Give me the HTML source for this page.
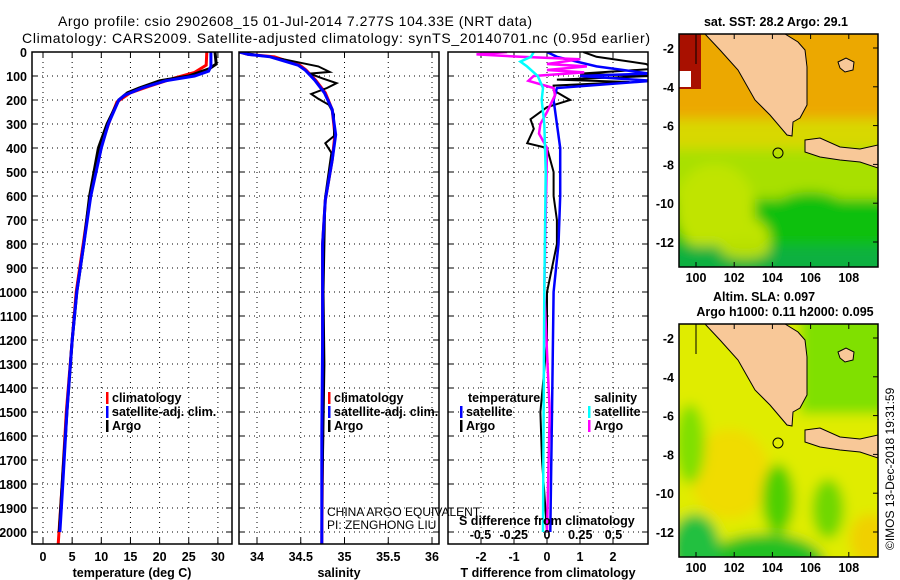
<!DOCTYPE html>
<html><head><meta charset="utf-8"><style>
body{margin:0;background:#fff;}
svg{display:block;font-family:"Liberation Sans",sans-serif;}
.b{font-weight:bold;font-size:12.5px;}
</style></head><body>
<svg id="fig" width="900" height="580" viewBox="0 0 900 580">
<text x="58" y="26" font-size="14" textLength="474">Argo profile: csio 2902608_15 01-Jul-2014 7.277S 104.33E (NRT data)</text>
<text x="22" y="43" font-size="14" textLength="628">Climatology: CARS2009. Satellite-adjusted climatology: synTS_20140701.nc (0.95d earlier)</text>
<g id="p1"></g>
<g id="p2"></g>
<g id="p3"></g>
<g id="maps"></g>
</svg>
<script>
// ---- data ----
const climDepth=[0,55,85,108,142,170,208,262,400,617,783,1000,1200,1500,1800,2050];
const climT=[28.1,28.0,26.0,22.6,18.3,15.0,12.7,11.8,9.8,8.0,7.0,5.7,5.0,4.0,3.3,2.6];
const argoDepth=[0,50,70,100,120,150,170,200,300,400,600,800,1000,1200,1500,1800,2000];
const argoT=[29.5,29.7,28.5,25,20,16.5,14.5,13,11,9.5,8,7,5.8,5.0,4.1,3.3,2.8];
const satDepth=[0,60,80,100,120,150,180,200,300,400,600,800,1000,1200,1500,1800,2000];
const satT=[28.8,28.8,28.4,26,21,17,14,13,11.2,10,8.2,7,5.8,5.0,4.1,3.4,2.9];
const climSDepth=[0,10,20,55,75,117,170,240,345,450,617,800,1200,1600,2050];
const climS=[33.8,33.9,34.2,34.49,34.56,34.67,34.78,34.86,34.89,34.86,34.78,34.75,34.75,34.75,34.74];
const satS=[33.8,33.9,34.15,34.47,34.55,34.66,34.77,34.86,34.9,34.86,34.78,34.75,34.75,34.74,34.74];
const argoSDepth=[0,30,60,83,90,110,130,150,175,195,220,260,350,380,420,600,1000,1300,2000];
const argoS=[33.8,34.3,34.7,34.83,34.6,34.75,34.91,34.8,34.62,34.7,34.82,34.88,34.88,34.78,34.85,34.78,34.76,34.77,34.74];
const dTDepth=[0,20,50,70,90,100,115,125,140,160,200,230,280,320,380,400,500,600,700,800,1000,1200,1500,1700,1800,2000];
const dTArgo=[1.1,1.5,3,3.3,1.0,3.2,0.3,2.5,0.2,0.2,0.7,0,-0.5,-0.4,-0.6,0.0,0.2,0.2,0.3,0.3,0,0,-0.2,-0.15,-0.1,0];
const dTSatDepth=[0,20,60,90,100,120,150,200,300,400,600,800,1000,1500,2000];
const dTSat=[0,0.3,1.5,3.1,1.0,3.2,0.3,0.2,0.3,0.4,0.4,0.35,0.2,0.15,0.1];
const dSDepth=[0,10,20,30,50,60,75,85,100,120,150,180,250,300,340,400,1000,1500,2000];
const dSArgo=[-0.3,-0.53,-0.2,0.25,0,0.3,0.0,0.28,-0.1,-0.14,0.05,0.06,0,-0.05,-0.06,0,-0.02,0.02,0];
const dSSatDepth=[0,20,40,60,100,150,200,300,500,1000,2000];
const dSSat=[-0.1,-0.12,-0.2,-0.15,-0.07,-0.03,-0.04,-0.02,-0.01,-0.02,-0.03];
const depthTicks=[0,100,200,300,400,500,600,700,800,900,1000,1100,1200,1300,1400,1500,1600,1700,1800,1900,2000];
const tTicks=[0,5,10,15,20,25,30];
const sTicks=[34,34.5,35,35.5,36];
const sTickLabels=["34","34.5","35","35.5","36"];
const dtTicks=[-2,-1,0,1,2];
const dsTicks=[-0.5,-0.25,0,0.25,0.5];
const dsTickLabels=["-0.5","-0.25","0","0.25","0.5"];
const lonTicks=[100,102,104,106,108];
const latTicks=[-2,-4,-6,-8,-10,-12];

const NS="http://www.w3.org/2000/svg";
function mk(tag,attrs,parent,txt){const e=document.createElementNS(NS,tag);for(const k in attrs)e.setAttribute(k,attrs[k]);if(txt!==undefined)e.textContent=txt;parent.appendChild(e);return e;}
const TOP=52,BOT=544;
const yD=d=>TOP+d*0.24;
function panel(g,x0,x1,xs,ticks,labels,xlab,name){
  ticks.forEach(t=>{const l=mk('line',{x1:xs(t),x2:xs(t),y1:TOP,y2:BOT,stroke:'#000','stroke-dasharray':'1,4','stroke-width':1},g);
  });
  depthTicks.forEach(d=>{const l=mk('line',{x1:x0,x2:x1,y1:yD(d),y2:yD(d),stroke:'#000','stroke-dasharray':'1,4','stroke-width':1},g);
  
  mk('line',{x1:x0,x2:x0+6,y1:yD(d),y2:yD(d),stroke:'#000'},g);mk('line',{x1:x1-6,x2:x1,y1:yD(d),y2:yD(d),stroke:'#000'},g);});
  ticks.forEach((t,i)=>{mk('line',{x1:xs(t),x2:xs(t),y1:BOT-6,y2:BOT,stroke:'#000'},g);mk('line',{x1:xs(t),x2:xs(t),y1:TOP,y2:TOP+6,stroke:'#000'},g);
    if(labels){const tx=mk('text',{x:xs(t),y:BOT+17,'text-anchor':'middle',class:'b'},g,labels[i]);
    }});
  if(xlab){const tx=mk('text',{x:(x0+x1)/2,y:BOT+33,'text-anchor':'middle',class:'b'},g,xlab);
  }
}
function frame(g,x0,x1,name){const r=mk('rect',{x:x0,y:TOP,width:x1-x0,height:BOT-TOP,fill:'none',stroke:'#000','stroke-width':1.5},g);
}
function line(g,xs,ds,vs,col,w,name,clipId){
  const pts=ds.map((d,i)=>xs(vs[i]).toFixed(1)+','+yD(d).toFixed(1)).join(' ');
  const p=mk('polyline',{points:pts,fill:'none',stroke:col,'stroke-width':w},g);
  if(clipId)p.setAttribute('clip-path','url(#'+clipId+')');
  }
function legend(g,x,y,items,name){items.forEach((it,i)=>{
  mk('rect',{x:x,y:y+i*14-10,width:2.5,height:12,fill:it[1]},g);
  const t=mk('text',{x:x+6,y:y+i*14,class:'b'},g,it[0]);
  });}
const svg=document.getElementById('fig');
const defs=mk('defs',{},svg);
const flt=mk('filter',{id:'blur',x:'-20%',y:'-20%',width:'140%',height:'140%'},defs);
mk('feGaussianBlur',{stdDeviation:6},flt);
[['c1',32,232],['c2',239,439],['c3',448,648]].forEach(c=>{const cp=mk('clipPath',{id:c[0]},defs);mk('rect',{x:c[1],y:TOP,width:c[2]-c[1],height:BOT-TOP},cp);});

// panel 1
const g1=document.getElementById('p1');
const xT=t=>43+t*5.83;
panel(g1,32,232,xT,tTicks,tTicks.map(String),'temperature (deg C)','temp');
depthTicks.forEach(d=>{const t=mk('text',{x:27,y:yD(d)+5,'text-anchor':'end',class:'b'},g1,String(d));
});
line(g1,xT,climDepth,climT,'#f00',3,'temp-climatology-line','c1');
line(g1,xT,argoDepth,argoT,'#000',3,'temp-argo-line','c1');
line(g1,xT,satDepth,satT,'#00f',3,'temp-satellite-line','c1');
frame(g1,32,232,'temp');
legend(g1,106,402,[['climatology','#f00'],['satellite-adj. clim.','#00f'],['Argo','#000']],'temp-legend');

// panel 2
const g2=document.getElementById('p2');
const xS=s=>257+(s-34)*87.5;
panel(g2,239,439,xS,sTicks,sTickLabels,'salinity','sal');
line(g2,xS,climSDepth,climS,'#f00',3,'sal-climatology-line','c2');
line(g2,xS,argoSDepth,argoS,'#000',2,'sal-argo-line','c2');
line(g2,xS,climSDepth,satS,'#00f',3,'sal-satellite-line','c2');
frame(g2,239,439,'sal');
legend(g2,328,402,[['climatology','#f00'],['satellite-adj. clim.','#00f'],['Argo','#000']],'sal-legend');
[['CHINA ARGO EQUIVALENT',516],['PI: ZENGHONG LIU',529]].forEach(a=>{const t=mk('text',{x:327,y:a[1],'font-size':12},g2,a[0]);
});

// panel 3
const g3=document.getElementById('p3');
const xDT=v=>547+v*33;
const xDS=v=>547+v*133;
panel(g3,448,648,xDT,dtTicks,dtTicks.map(String),'T difference from climatology','diff');
line(g3,xDT,dTDepth,dTArgo,'#000',2,'dT-argo-line','c3');
line(g3,xDT,dTSatDepth,dTSat,'#00f',2.5,'dT-satellite-line','c3');
line(g3,xDS,dSDepth,dSArgo,'#f0f',2.5,'dS-argo-line','c3');
line(g3,xDS,dSSatDepth,dSSat,'#0ff',2.5,'dS-satellite-line','c3');
frame(g3,448,648,'diff');
{let t=mk('text',{x:468,y:402,class:'b'},g3,'temperature');
 t=mk('text',{x:594,y:402,class:'b'},g3,'salinity');}
legend(g3,460,416,[['satellite','#00f'],['Argo','#000']],'diff-legend-temp');
legend(g3,588,416,[['satellite','#0ff'],['Argo','#f0f']],'diff-legend-sal');
{const t=mk('text',{x:459,y:525,class:'b'},g3,'S difference from climatology');}
dsTicks.forEach((v,i)=>{const t=mk('text',{x:xDS(v),y:539,'text-anchor':'middle',class:'b'},g3,dsTickLabels[i]);
});

// maps
const gm=document.getElementById('maps');
const MX0=679,MX1=878;
const lonX=l=>696+(l-100)*19.1;
function drawMap(y0,y1,latY,kind,titles){
  const g=mk('g',{},gm);
  
  const cid='m'+kind;const cp=mk('clipPath',{id:cid},defs);mk('rect',{x:MX0,y:y0,width:MX1-MX0,height:y1-y0},cp);
  const c=mk('g',{'clip-path':'url(#'+cid+')'},g);
  const bg=mk('g',{filter:'url(#blur)'},c);
  const o=y0-34;
  if(kind==='sst'){
    mk('rect',{x:MX0-20,y:y0-20,width:240,height:280,fill:'#10c010'},bg);
    mk('rect',{x:MX0-20,y:y0-20,width:240,height:110,fill:'#eca800'},bg);
    mk('rect',{x:MX0-20,y:y0+85,width:240,height:35,fill:'#d8d800'},bg);
    mk('rect',{x:MX0-20,y:y0+115,width:240,height:50,fill:'#a8e000'},bg);
    mk('ellipse',{cx:715,cy:y0+175,rx:40,ry:45,fill:'#c0e400'},bg);
    mk('ellipse',{cx:745,cy:y0+205,rx:25,ry:22,fill:'#c0e400'},bg);
    mk('ellipse',{cx:810,cy:y0+180,rx:40,ry:22,fill:'#10c010'},bg);
    mk('rect',{x:MX0-20,y:y0+212,width:240,height:40,fill:'#10b040'},bg);
    mk('ellipse',{cx:745,cy:y0+215,rx:25,ry:10,fill:'#b8e000'},bg);
    mk('rect',{x:MX0,y:y0,width:22,height:55,fill:'#a81000'},c);
    mk('rect',{x:MX0,y:y0+37,width:12,height:16,fill:'#fff'},c);
  } else {
    mk('rect',{x:MX0-20,y:y0-20,width:240,height:280,fill:'#e0ec00'},bg);
    mk('rect',{x:800,y:y0-20,width:90,height:110,fill:'#80e000'},bg);
    mk('ellipse',{cx:730,cy:y0+150,rx:40,ry:45,fill:'#f0dc00'},bg);
    mk('ellipse',{cx:778,cy:y0+175,rx:16,ry:35,fill:'#50d000'},bg);
    mk('ellipse',{cx:828,cy:y0+185,rx:16,ry:30,fill:'#70d800'},bg);
    mk('ellipse',{cx:765,cy:y0+240,rx:60,ry:30,fill:'#20c020'},bg);
    mk('ellipse',{cx:695,cy:y0+225,rx:25,ry:35,fill:'#20c040'},bg);
    mk('ellipse',{cx:690,cy:y0+120,rx:15,ry:40,fill:'#80e000'},bg);
    mk('ellipse',{cx:870,cy:y0+215,rx:20,ry:25,fill:'#f0d000'},bg);
  }
  const sum=[[705,34],[720,50],[738,70],[755,100],[770,115],[787,135],[792,136],[793,122],[800,118],[807,105],[807,67],[805,50],[798,42],[785,34]];
  const java=[[805,140],[820,138],[840,147],[860,149],[878,145],[878,168],[860,162],[840,160],[820,157],[805,152]];
  const bangka=[[838,62],[846,58],[854,62],[853,70],[845,72],[840,68]];
  [[sum,'sumatra'],[java,'java'],[bangka,'bangka']].forEach(p=>{
    const pl=mk('polygon',{points:p[0].map(q=>q[0]+','+(q[1]+o)).join(' '),fill:'#f8c898',stroke:'#000','stroke-width':1},c);
    });
  mk('line',{x1:696,x2:696,y1:y0,y2:y0+30,stroke:'#000'},c);
  const ci=mk('circle',{cx:778,cy:153+o,r:5,fill:'none',stroke:'#000','stroke-width':1},g);
  
  mk('rect',{x:MX0,y:y0,width:MX1-MX0,height:y1-y0,fill:'none',stroke:'#000','stroke-width':1.5},g);
  latTicks.forEach(l=>{const y=latY(l);mk('line',{x1:MX1-5,x2:MX1,y1:y,y2:y,stroke:'#000'},g);
    const t=mk('text',{x:674,y:y+5,'text-anchor':'end',class:'b'},g,String(l));});
  lonTicks.forEach(l=>{mk('line',{x1:lonX(l),x2:lonX(l),y1:y0,y2:y0+5,stroke:'#000'},g);mk('line',{x1:lonX(l),x2:lonX(l),y1:y1-5,y2:y1,stroke:'#000'},g);
    const t=mk('text',{x:lonX(l),y:y1+15,'text-anchor':'middle',class:'b'},g,String(l));});
  titles.forEach(tt=>{const t=mk('text',{x:tt[1],y:tt[2],'text-anchor':'middle',class:'b'},g,tt[0]);});
}
drawMap(34,267,l=>48+(-2-l)*19.4,'sst',[['sat. SST: 28.2 Argo: 29.1',776,26]]);
drawMap(324,557,l=>338+(-2-l)*19.4,'sla',[['Altim. SLA: 0.097',764,301],['Argo h1000: 0.11 h2000: 0.095',785,316]]);
{const t=mk('text',{x:0,y:0,'font-size':12,transform:'translate(894,550) rotate(-90)'},gm,'©IMOS 13-Dec-2018 19:31:59');
}
</script>
</body></html>
